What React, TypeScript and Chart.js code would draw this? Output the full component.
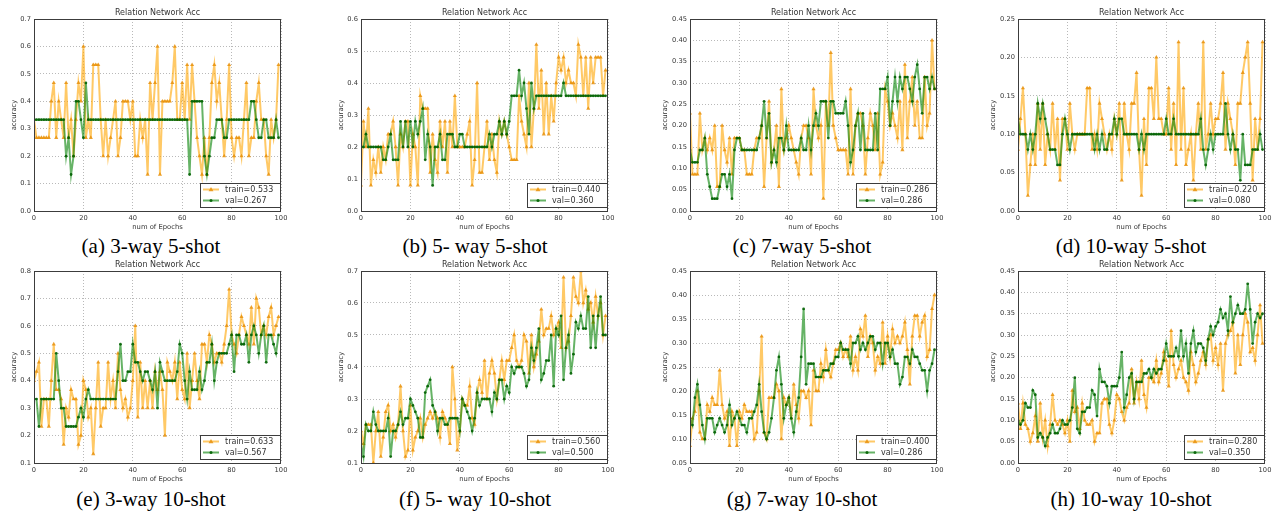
import React, { useEffect, useRef } from "react";
import { Chart, registerables } from "chart.js";

Chart.register(...registerables);

// ---------- data ----------
const xTicks = [0, 20, 40, 60, 80, 100];
const chartTitle = "Relation Network Acc";
const xTitle = "num of Epochs";
const yTitle = "accuracy";

const captions = [
  "(a) 3-way 5-shot",
  "(b) 5- way 5-shot",
  "(c) 7-way 5-shot",
  "(d) 10-way 5-shot",
  "(e) 3-way 10-shot",
  "(f) 5- way 10-shot",
  "(g) 7-way 10-shot",
  "(h) 10-way 10-shot",
];

const trainLabels = ["train=0.533", "train=0.440", "train=0.286", "train=0.220", "train=0.633", "train=0.560", "train=0.400", "train=0.280"];
const valLabels = ["val=0.267", "val=0.360", "val=0.286", "val=0.080", "val=0.567", "val=0.500", "val=0.286", "val=0.350"];

const trainA = [
  0.333, 0.267, 0.267, 0.267, 0.267, 0.267, 0.267, 0.4, 0.467, 0.267,
  0.4, 0.333, 0.267, 0.467, 0.267, 0.333, 0.2, 0.333, 0.467, 0.4,
  0.6, 0.267, 0.333, 0.267, 0.533, 0.533, 0.533, 0.333, 0.2, 0.333,
  0.2, 0.267, 0.333, 0.4, 0.2, 0.267, 0.4, 0.4, 0.4, 0.333,
  0.4, 0.2, 0.2, 0.333, 0.267, 0.333, 0.133, 0.467, 0.333, 0.467,
  0.6, 0.133, 0.4, 0.4, 0.4, 0.4, 0.467, 0.6, 0.333, 0.333,
  0.467, 0.333, 0.533, 0.333, 0.533, 0.4, 0.267, 0.2, 0.133, 0.267,
  0.133, 0.267, 0.467, 0.533, 0.4, 0.467, 0.333, 0.2, 0.333, 0.533,
  0.267, 0.2, 0.267, 0.267, 0.2, 0.333, 0.467, 0.2, 0.267, 0.267,
  0.4, 0.467, 0.333, 0.333, 0.2, 0.133, 0.333, 0.267, 0.333, 0.533,
];
const valA = [
  0.333, 0.333, 0.333, 0.333, 0.333, 0.333, 0.333, 0.333, 0.333, 0.333,
  0.333, 0.333, 0.333, 0.2, 0.267, 0.133, 0.2, 0.4, 0.4, 0.333,
  0.267, 0.467, 0.333, 0.333, 0.333, 0.333, 0.333, 0.333, 0.333, 0.333,
  0.333, 0.333, 0.333, 0.333, 0.333, 0.333, 0.333, 0.333, 0.333, 0.333,
  0.333, 0.333, 0.333, 0.333, 0.333, 0.333, 0.333, 0.333, 0.333, 0.333,
  0.333, 0.333, 0.333, 0.333, 0.333, 0.333, 0.333, 0.333, 0.333, 0.333,
  0.333, 0.333, 0.333, 0.133, 0.4, 0.4, 0.4, 0.4, 0.4, 0.2,
  0.133, 0.2, 0.267, 0.267, 0.333, 0.333, 0.333, 0.267, 0.267, 0.333,
  0.333, 0.333, 0.333, 0.333, 0.333, 0.333, 0.333, 0.333, 0.4, 0.4,
  0.333, 0.267, 0.267, 0.333, 0.333, 0.267, 0.267, 0.267, 0.333, 0.267,
];

const trainB = [
  0.08, 0.28, 0.2, 0.32, 0.08, 0.16, 0.12, 0.2, 0.12, 0.2,
  0.16, 0.24, 0.24, 0.28, 0.2, 0.08, 0.24, 0.2, 0.28, 0.28,
  0.08, 0.24, 0.2, 0.08, 0.36, 0.32, 0.32, 0.32, 0.12, 0.24,
  0.16, 0.12, 0.28, 0.2, 0.28, 0.12, 0.28, 0.2, 0.36, 0.2,
  0.2, 0.2, 0.2, 0.24, 0.28, 0.08, 0.16, 0.4, 0.12, 0.12,
  0.2, 0.28, 0.16, 0.24, 0.16, 0.12, 0.28, 0.24, 0.28, 0.24,
  0.2, 0.16, 0.16, 0.16, 0.36, 0.28, 0.24, 0.2, 0.4, 0.2,
  0.32, 0.52, 0.32, 0.44, 0.24, 0.4, 0.24, 0.36, 0.28, 0.4,
  0.48, 0.44, 0.48, 0.4, 0.44, 0.4, 0.4, 0.36, 0.52, 0.48,
  0.36, 0.48, 0.32, 0.48, 0.4, 0.48, 0.48, 0.48, 0.36, 0.44,
];
const valB = [
  0.2, 0.2, 0.24, 0.2, 0.2, 0.2, 0.2, 0.2, 0.2, 0.16,
  0.16, 0.2, 0.24, 0.16, 0.16, 0.16, 0.28, 0.2, 0.28, 0.2,
  0.28, 0.2, 0.28, 0.24, 0.28, 0.32, 0.16, 0.24, 0.2, 0.08,
  0.2, 0.2, 0.24, 0.16, 0.16, 0.24, 0.24, 0.24, 0.2, 0.2,
  0.24, 0.24, 0.2, 0.2, 0.2, 0.2, 0.2, 0.2, 0.2, 0.2,
  0.2, 0.2, 0.24, 0.2, 0.24, 0.24, 0.28, 0.24, 0.28, 0.24,
  0.28, 0.36, 0.36, 0.36, 0.44, 0.36, 0.4, 0.32, 0.24, 0.4,
  0.32, 0.36, 0.36, 0.36, 0.36, 0.36, 0.36, 0.36, 0.36, 0.36,
  0.36, 0.36, 0.4, 0.36, 0.36, 0.36, 0.36, 0.36, 0.36, 0.36,
  0.36, 0.36, 0.36, 0.36, 0.36, 0.36, 0.36, 0.36, 0.36, 0.36,
];

const trainC = [
  0.229, 0.086, 0.086, 0.086, 0.229, 0.143, 0.171, 0.143, 0.171, 0.143,
  0.2, 0.057, 0.057, 0.2, 0.143, 0.114, 0.171, 0.086, 0.171, 0.171,
  0.171, 0.143, 0.143, 0.086, 0.086, 0.086, 0.143, 0.171, 0.171, 0.2,
  0.057, 0.171, 0.257, 0.114, 0.143, 0.2, 0.057, 0.286, 0.143, 0.171,
  0.2, 0.171, 0.143, 0.114, 0.086, 0.171, 0.2, 0.2, 0.171, 0.086,
  0.286, 0.2, 0.171, 0.2, 0.029, 0.257, 0.2, 0.371, 0.2, 0.171,
  0.143, 0.143, 0.143, 0.143, 0.086, 0.286, 0.086, 0.2, 0.229, 0.229,
  0.2, 0.086, 0.171, 0.229, 0.2, 0.143, 0.229, 0.086, 0.114, 0.286,
  0.257, 0.2, 0.229, 0.2, 0.171, 0.257, 0.143, 0.343, 0.171, 0.257,
  0.314, 0.2, 0.257, 0.171, 0.171, 0.314, 0.2, 0.229, 0.4, 0.286,
];
const valC = [
  0.143, 0.114, 0.114, 0.114, 0.143, 0.143, 0.171, 0.086, 0.057, 0.029,
  0.029, 0.029, 0.057, 0.086, 0.086, 0.057, 0.086, 0.029, 0.143, 0.171,
  0.171, 0.143, 0.143, 0.143, 0.143, 0.143, 0.143, 0.143, 0.171, 0.2,
  0.257, 0.171, 0.229, 0.114, 0.143, 0.114, 0.171, 0.171, 0.143, 0.2,
  0.143, 0.143, 0.143, 0.143, 0.143, 0.171, 0.143, 0.143, 0.2, 0.143,
  0.2, 0.229, 0.2, 0.257, 0.257, 0.257, 0.171, 0.257, 0.257, 0.229,
  0.229, 0.229, 0.229, 0.257, 0.2, 0.114, 0.143, 0.2, 0.229, 0.143,
  0.229, 0.143, 0.143, 0.143, 0.143, 0.229, 0.143, 0.286, 0.286, 0.286,
  0.314, 0.2, 0.257, 0.314, 0.257, 0.314, 0.286, 0.314, 0.314, 0.286,
  0.257, 0.314, 0.343, 0.286, 0.229, 0.314, 0.314, 0.286, 0.314, 0.286,
];

const trainD = [
  0.08, 0.12, 0.16, 0.1, 0.02, 0.06, 0.1, 0.06, 0.14, 0.08,
  0.14, 0.06, 0.1, 0.08, 0.14, 0.08, 0.12, 0.04, 0.12, 0.12,
  0.08, 0.14, 0.1, 0.08, 0.1, 0.1, 0.1, 0.1, 0.16, 0.16,
  0.08, 0.1, 0.08, 0.14, 0.12, 0.1, 0.08, 0.1, 0.08, 0.12,
  0.1, 0.14, 0.04, 0.14, 0.1, 0.08, 0.14, 0.14, 0.18, 0.08,
  0.02, 0.12, 0.06, 0.16, 0.16, 0.12, 0.2, 0.12, 0.12, 0.1,
  0.1, 0.16, 0.08, 0.14, 0.06, 0.22, 0.08, 0.16, 0.06, 0.08,
  0.1, 0.04, 0.1, 0.14, 0.08, 0.22, 0.08, 0.1, 0.14, 0.1,
  0.12, 0.12, 0.14, 0.18, 0.08, 0.14, 0.12, 0.1, 0.06, 0.14,
  0.14, 0.18, 0.2, 0.22, 0.14, 0.04, 0.12, 0.08, 0.12, 0.22,
];
const valD = [
  0.12, 0.1, 0.1, 0.1, 0.08, 0.1, 0.08, 0.1, 0.14, 0.12,
  0.14, 0.12, 0.1, 0.08, 0.08, 0.08, 0.06, 0.06, 0.1, 0.12,
  0.1, 0.08, 0.1, 0.1, 0.1, 0.1, 0.1, 0.1, 0.1, 0.1,
  0.1, 0.08, 0.1, 0.08, 0.1, 0.08, 0.08, 0.1, 0.1, 0.12,
  0.1, 0.12, 0.12, 0.1, 0.1, 0.1, 0.1, 0.1, 0.1, 0.08,
  0.1, 0.08, 0.1, 0.1, 0.1, 0.1, 0.1, 0.1, 0.1, 0.1,
  0.12, 0.1, 0.1, 0.12, 0.1, 0.1, 0.1, 0.1, 0.1, 0.1,
  0.1, 0.1, 0.1, 0.1, 0.12, 0.08, 0.06, 0.08, 0.1, 0.08,
  0.1, 0.1, 0.1, 0.1, 0.14, 0.1, 0.08, 0.1, 0.08, 0.08,
  0.04, 0.1, 0.06, 0.06, 0.06, 0.08, 0.08, 0.08, 0.1, 0.08,
];

const trainE = [
  0.4, 0.433, 0.467, 0.233, 0.333, 0.333, 0.233, 0.4, 0.533, 0.367,
  0.367, 0.333, 0.167, 0.3, 0.267, 0.367, 0.333, 0.333, 0.167, 0.2,
  0.4, 0.367, 0.267, 0.3, 0.133, 0.3, 0.467, 0.233, 0.3, 0.3,
  0.467, 0.333, 0.4, 0.3, 0.5, 0.367, 0.3, 0.333, 0.267, 0.3,
  0.4, 0.6, 0.267, 0.467, 0.3, 0.4, 0.3, 0.4, 0.3, 0.433,
  0.367, 0.433, 0.367, 0.2, 0.467, 0.433, 0.4, 0.467, 0.333, 0.467,
  0.367, 0.333, 0.5, 0.3, 0.4, 0.5, 0.4, 0.333, 0.533, 0.533,
  0.467, 0.567, 0.533, 0.467, 0.5, 0.5, 0.467, 0.533, 0.6, 0.733,
  0.567, 0.533, 0.5, 0.567, 0.633, 0.6, 0.567, 0.533, 0.667, 0.533,
  0.7, 0.667, 0.567, 0.6, 0.567, 0.633, 0.667, 0.567, 0.6, 0.633,
];
const valE = [
  0.333, 0.333, 0.233, 0.333, 0.333, 0.333, 0.333, 0.333, 0.333, 0.5,
  0.4, 0.3, 0.3, 0.233, 0.233, 0.233, 0.233, 0.233, 0.267, 0.3,
  0.267, 0.333, 0.367, 0.333, 0.333, 0.333, 0.333, 0.333, 0.333, 0.333,
  0.333, 0.333, 0.333, 0.333, 0.433, 0.533, 0.4, 0.4, 0.433, 0.433,
  0.533, 0.467, 0.467, 0.433, 0.4, 0.433, 0.433, 0.4, 0.367, 0.433,
  0.3, 0.467, 0.433, 0.4, 0.4, 0.4, 0.4, 0.4, 0.433, 0.533,
  0.5, 0.4, 0.333, 0.433, 0.367, 0.367, 0.367, 0.433, 0.367, 0.4,
  0.467, 0.467, 0.533, 0.4, 0.467, 0.5, 0.5, 0.5, 0.5, 0.533,
  0.567, 0.433, 0.567, 0.567, 0.533, 0.533, 0.567, 0.467, 0.567, 0.6,
  0.567, 0.5, 0.567, 0.6, 0.467, 0.567, 0.567, 0.533, 0.5, 0.567,
];

const trainF = [
  0.2, 0.16, 0.22, 0.22, 0.22, 0.1, 0.2, 0.26, 0.12, 0.18,
  0.26, 0.28, 0.2, 0.22, 0.18, 0.22, 0.34, 0.2, 0.12, 0.14,
  0.28, 0.14, 0.18, 0.2, 0.24, 0.18, 0.22, 0.24, 0.26, 0.24,
  0.26, 0.24, 0.18, 0.26, 0.24, 0.22, 0.16, 0.4, 0.3, 0.14,
  0.2, 0.3, 0.28, 0.28, 0.34, 0.24, 0.22, 0.32, 0.36, 0.32,
  0.42, 0.3, 0.38, 0.42, 0.38, 0.3, 0.36, 0.42, 0.36, 0.42,
  0.42, 0.46, 0.5, 0.42, 0.4, 0.42, 0.5, 0.48, 0.38, 0.5,
  0.4, 0.44, 0.48, 0.58, 0.5, 0.52, 0.52, 0.56, 0.5, 0.52,
  0.54, 0.46, 0.68, 0.46, 0.48, 0.56, 0.68, 0.62, 0.6, 0.7,
  0.6, 0.64, 0.58, 0.6, 0.54, 0.62, 0.56, 0.6, 0.5, 0.56,
];
const valF = [
  0.16, 0.12, 0.22, 0.2, 0.2, 0.26, 0.22, 0.2, 0.2, 0.2,
  0.2, 0.24, 0.12, 0.2, 0.2, 0.22, 0.26, 0.22, 0.24, 0.24,
  0.3, 0.28, 0.26, 0.24, 0.18, 0.18, 0.32, 0.34, 0.36, 0.28,
  0.26, 0.2, 0.24, 0.24, 0.22, 0.22, 0.24, 0.24, 0.24, 0.24,
  0.2, 0.3, 0.28, 0.26, 0.24, 0.2, 0.24, 0.32, 0.28, 0.3,
  0.3, 0.3, 0.3, 0.26, 0.32, 0.3, 0.36, 0.36, 0.3, 0.34,
  0.32, 0.4, 0.38, 0.4, 0.4, 0.4, 0.38, 0.34, 0.36, 0.46,
  0.42, 0.46, 0.52, 0.36, 0.38, 0.42, 0.42, 0.5, 0.34, 0.52,
  0.5, 0.56, 0.36, 0.46, 0.5, 0.38, 0.44, 0.54, 0.52, 0.56,
  0.52, 0.52, 0.62, 0.46, 0.56, 0.46, 0.56, 0.62, 0.5, 0.5,
];

const trainG = [
  0.086, 0.143, 0.157, 0.2, 0.114, 0.1, 0.1, 0.171, 0.157, 0.186,
  0.171, 0.171, 0.243, 0.171, 0.143, 0.157, 0.086, 0.157, 0.143, 0.086,
  0.157, 0.143, 0.171, 0.157, 0.157, 0.157, 0.1, 0.114, 0.2, 0.314,
  0.114, 0.1, 0.186, 0.186, 0.186, 0.214, 0.2, 0.1, 0.186, 0.171,
  0.186, 0.143, 0.214, 0.171, 0.143, 0.2, 0.2, 0.186, 0.2, 0.129,
  0.243, 0.2, 0.2, 0.257, 0.229, 0.286, 0.243, 0.229, 0.257, 0.286,
  0.286, 0.3, 0.271, 0.286, 0.271, 0.314, 0.243, 0.271, 0.243, 0.329,
  0.314, 0.357, 0.271, 0.314, 0.3, 0.243, 0.271, 0.257, 0.343, 0.257,
  0.314, 0.271, 0.329, 0.3, 0.314, 0.3, 0.314, 0.343, 0.286, 0.214,
  0.314, 0.357, 0.357, 0.314, 0.343, 0.357, 0.271, 0.286, 0.371, 0.4,
];
const valG = [
  0.143, 0.129, 0.186, 0.214, 0.171, 0.129, 0.1, 0.143, 0.143, 0.143,
  0.114, 0.129, 0.143, 0.129, 0.114, 0.129, 0.171, 0.129, 0.143, 0.157,
  0.143, 0.129, 0.129, 0.114, 0.143, 0.143, 0.157, 0.171, 0.214, 0.157,
  0.114, 0.1, 0.114, 0.143, 0.186, 0.243, 0.271, 0.214, 0.143, 0.171,
  0.186, 0.143, 0.114, 0.157, 0.186, 0.271, 0.371, 0.214, 0.257, 0.257,
  0.257, 0.229, 0.229, 0.229, 0.243, 0.243, 0.243, 0.257, 0.257, 0.271,
  0.271, 0.3, 0.286, 0.286, 0.286, 0.257, 0.3, 0.3, 0.314, 0.286,
  0.3, 0.286, 0.3, 0.314, 0.314, 0.286, 0.3, 0.3, 0.257, 0.3,
  0.3, 0.271, 0.286, 0.257, 0.257, 0.214, 0.229, 0.271, 0.271, 0.257,
  0.286, 0.271, 0.271, 0.257, 0.243, 0.243, 0.2, 0.243, 0.257, 0.286,
];

const trainH = [
  0.14, 0.08, 0.14, 0.09, 0.08, 0.05, 0.07, 0.11, 0.05, 0.14,
  0.06, 0.1, 0.04, 0.09, 0.16, 0.1, 0.09, 0.1, 0.09, 0.07,
  0.1, 0.05, 0.17, 0.12, 0.13, 0.08, 0.14, 0.1, 0.09, 0.09,
  0.1, 0.05, 0.07, 0.07, 0.14, 0.15, 0.15, 0.09, 0.07, 0.1,
  0.16, 0.15, 0.12, 0.1, 0.13, 0.14, 0.22, 0.14, 0.19, 0.15,
  0.24, 0.16, 0.13, 0.2, 0.2, 0.19, 0.24, 0.19, 0.21, 0.26,
  0.24, 0.18, 0.31, 0.23, 0.2, 0.22, 0.24, 0.2, 0.19, 0.17,
  0.26, 0.23, 0.19, 0.21, 0.24, 0.26, 0.23, 0.29, 0.3, 0.24,
  0.27, 0.23, 0.28, 0.17, 0.28, 0.3, 0.31, 0.33, 0.21, 0.3,
  0.23, 0.3, 0.35, 0.33, 0.26, 0.27, 0.24, 0.3, 0.37, 0.28,
];
const valH = [
  0.1, 0.09, 0.1, 0.14, 0.13, 0.13, 0.17, 0.16, 0.06, 0.07,
  0.06, 0.04, 0.06, 0.07, 0.09, 0.07, 0.07, 0.08, 0.1, 0.09,
  0.09, 0.1, 0.13, 0.2, 0.08, 0.07, 0.12, 0.12, 0.13, 0.13,
  0.17, 0.16, 0.11, 0.22, 0.19, 0.19, 0.18, 0.14, 0.18, 0.18,
  0.18, 0.2, 0.26, 0.13, 0.16, 0.2, 0.21, 0.15, 0.19, 0.19,
  0.19, 0.21, 0.21, 0.22, 0.2, 0.22, 0.21, 0.22, 0.22, 0.24,
  0.28, 0.25, 0.25, 0.25, 0.27, 0.25, 0.31, 0.25, 0.28, 0.21,
  0.28, 0.31, 0.26, 0.28, 0.28, 0.27, 0.24, 0.29, 0.32, 0.3,
  0.32, 0.33, 0.36, 0.34, 0.35, 0.31, 0.39, 0.33, 0.35, 0.37,
  0.35, 0.35, 0.36, 0.42, 0.36, 0.28, 0.33, 0.35, 0.34, 0.35,
];

const yMins = [0, 0, 0, 0, 0.1, 0.1, 0.05, 0];
const yMaxs = [0.7, 0.6, 0.45, 0.25, 0.8, 0.7, 0.45, 0.45];
const ySteps = [0.1, 0.1, 0.05, 0.05, 0.1, 0.1, 0.05, 0.05];
const yDecimals = [1, 1, 2, 2, 1, 1, 2, 2];

const trainSeries = [trainA, trainB, trainC, trainD, trainE, trainF, trainG, trainH];
const valSeries = [valA, valB, valC, valD, valE, valF, valG, valH];

// ---------- layout ----------
const PLOT_W = 247;
const PLOT_H = 192;
const PAD_L = 40;
const PAD_T = 18;
const PAD_R = 12;
const PAD_B = 22;
const plotLefts = [34, 361, 690, 1018];
const plotTops = [19, 271];
const captionCenters = [151, 475, 802, 1131];
const captionTops = [234, 487];

const TRAIN_LINE = "rgba(255,165,0,0.6)";
const TRAIN_PT = "rgba(232,145,10,0.85)";
const VAL_LINE = "rgba(0,128,0,0.6)";
const VAL_PT = "rgba(0,95,0,0.9)";
const TEXT = "#333";
const FONT = "'DejaVu Sans', sans-serif";

function toPoints(arr: number[]) {
  return arr.map((v, i) => ({ x: i, y: v }));
}

function drawTriangle(ctx: CanvasRenderingContext2D, x: number, y: number, r: number) {
  ctx.beginPath();
  ctx.moveTo(x, y - r);
  ctx.lineTo(x + r * 0.95, y + r * 0.7);
  ctx.lineTo(x - r * 0.95, y + r * 0.7);
  ctx.closePath();
  ctx.fill();
}

function makeDecor(idx: number) {
  return {
    id: "decor" + idx,
    afterDraw(chart: any) {
      const ctx: CanvasRenderingContext2D = chart.ctx;
      const a = chart.chartArea;
      ctx.save();
      // frame
      ctx.strokeStyle = "#3c3c3c";
      ctx.lineWidth = 1;
      ctx.strokeRect(Math.round(a.left) + 0.5, Math.round(a.top) + 0.5, Math.round(a.right - a.left) - 1, Math.round(a.bottom - a.top));
      // title
      ctx.fillStyle = TEXT;
      ctx.textAlign = "center";
      ctx.textBaseline = "middle";
      ctx.font = "8px " + FONT;
      ctx.fillText(chartTitle, (a.left + a.right) / 2, a.top - 6);
      // x title
      ctx.font = "6.8px " + FONT;
      ctx.fillText(xTitle, (a.left + a.right) / 2, a.bottom + 16);
      // y title
      const ys = chart.scales.y;
      ctx.font = "6.7px " + FONT;
      let maxW = 0;
      (ys.ticks || []).forEach((t: any) => {
        const w = ctx.measureText(String(t.label)).width;
        if (w > maxW) maxW = w;
      });
      ctx.font = "6.8px " + FONT;
      ctx.save();
      ctx.translate(a.left - 3 - maxW - 3 - 3.4, (a.top + a.bottom) / 2);
      ctx.rotate(-Math.PI / 2);
      ctx.fillText(yTitle, 0, 0);
      ctx.restore();
      // legend
      const bw = 80;
      const bh = 24;
      const bx = Math.round(a.right - 1.5 - bw);
      const by = Math.round(a.bottom - 4 - bh);
      ctx.fillStyle = "#fff";
      ctx.fillRect(bx, by, bw, bh);
      ctx.strokeStyle = "#3c3c3c";
      ctx.lineWidth = 1;
      ctx.strokeRect(bx + 0.5, by + 0.5, bw, bh);
      const rows = [
        { y: by + 6.5, line: TRAIN_LINE, pt: TRAIN_PT, tri: true, label: trainLabels[idx] },
        { y: by + 17.5, line: VAL_LINE, pt: VAL_PT, tri: false, label: valLabels[idx] },
      ];
      rows.forEach((r) => {
        ctx.strokeStyle = r.line;
        ctx.lineWidth = 2;
        ctx.beginPath();
        ctx.moveTo(bx + 3, r.y);
        ctx.lineTo(bx + 19, r.y);
        ctx.stroke();
        ctx.fillStyle = r.pt;
        if (r.tri) {
          drawTriangle(ctx, bx + 11, r.y, 2.6);
        } else {
          ctx.beginPath();
          ctx.arc(bx + 11, r.y, 1.5, 0, Math.PI * 2);
          ctx.fill();
        }
        ctx.fillStyle = TEXT;
        ctx.font = "8px " + FONT;
        ctx.textAlign = "left";
        ctx.textBaseline = "middle";
        ctx.fillText(r.label, bx + 25, r.y + 0.5);
      });
      ctx.restore();
    },
  };
}

function Panel({ idx }: { idx: number }) {
  const ref = useRef<HTMLCanvasElement | null>(null);
  useEffect(() => {
    if (!ref.current) return;
    const dec = yDecimals[idx];
    const chart = new Chart(ref.current, {
      type: "line",
      data: {
        datasets: [
          {
            label: "val",
            data: toPoints(valSeries[idx]),
            borderColor: VAL_LINE,
            backgroundColor: VAL_PT,
            borderWidth: 2,
            pointStyle: "circle",
            pointRadius: 1.4,
            pointBorderWidth: 0,
            pointBackgroundColor: VAL_PT,
            tension: 0,
            order: 0,
          },
          {
            label: "train",
            data: toPoints(trainSeries[idx]),
            borderColor: TRAIN_LINE,
            backgroundColor: TRAIN_PT,
            borderWidth: 2,
            pointStyle: "triangle",
            pointRadius: 2.4,
            pointBorderWidth: 0,
            pointBackgroundColor: TRAIN_PT,
            tension: 0,
            order: 1,
          },
        ],
      },
      options: {
        animation: false,
        responsive: false,
        maintainAspectRatio: false,
        events: [],
        layout: { padding: { left: 0, top: PAD_T, right: PAD_R, bottom: 0 } },
        plugins: {
          legend: { display: false },
          title: { display: false },
          tooltip: { enabled: false },
        },
        scales: {
          x: {
            type: "linear",
            min: 0,
            max: 100,
            afterBuildTicks: (s: any) => {
              s.ticks = xTicks.map((v) => ({ value: v }));
            },
            ticks: {
              color: TEXT,
              font: { family: FONT, size: 6.7 },
              padding: 3,
              maxRotation: 0,
              autoSkip: false,
              callback: (v: any) => String(v),
            },
            grid: { color: "rgba(0,0,0,0.35)", lineWidth: 0.8, drawTicks: false },
            border: { display: false, dash: [1, 2] },
            afterFit: (s: any) => {
              s.height = PAD_B;
            },
          },
          y: {
            type: "linear",
            min: yMins[idx],
            max: yMaxs[idx],
            ticks: {
              stepSize: ySteps[idx],
              color: TEXT,
              font: { family: FONT, size: 6.7 },
              padding: 3,
              autoSkip: false,
              callback: (v: any) => Number(v).toFixed(dec),
            },
            grid: { color: "rgba(0,0,0,0.35)", lineWidth: 0.8, drawTicks: false },
            border: { display: false, dash: [1, 2] },
            afterFit: (s: any) => {
              s.width = PAD_L;
            },
          },
        },
      },
      plugins: [makeDecor(idx)],
    } as any);
    return () => chart.destroy();
  }, [idx]);

  const col = idx % 4;
  const row = Math.floor(idx / 4);
  const w = PAD_L + PLOT_W + PAD_R;
  const h = PAD_T + PLOT_H + PAD_B;
  return (
    <>
      <canvas
        ref={ref}
        width={w}
        height={h}
        style={{
          position: "absolute",
          left: plotLefts[col] - PAD_L,
          top: plotTops[row] - PAD_T,
          width: w,
          height: h,
        }}
      />
      <div
        style={{
          position: "absolute",
          left: captionCenters[col] - 150,
          top: captionTops[row],
          width: 300,
          height: 24,
          lineHeight: "24px",
          textAlign: "center",
          fontFamily: "'Liberation Serif', 'Times New Roman', serif",
          fontSize: 21,
          color: "#000",
          whiteSpace: "nowrap",
        }}
      >
        {captions[idx]}
      </div>
    </>
  );
}

export default function App() {
  return (
    <div
      style={{
        position: "absolute",
        left: 0,
        top: 0,
        width: 1278,
        height: 515,
        overflow: "hidden",
        background: "#fff",
      }}
    >
      {[0, 1, 2, 3, 4, 5, 6, 7].map((i) => (
        <Panel key={i} idx={i} />
      ))}
    </div>
  );
}
